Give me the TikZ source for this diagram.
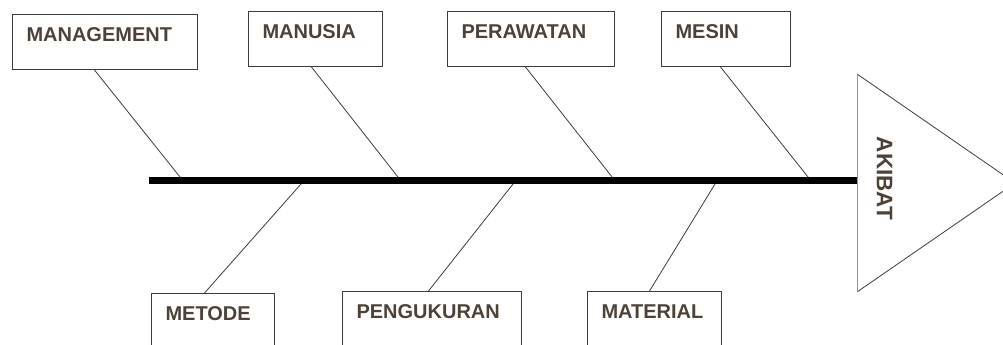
\documentclass[tikz,border=0pt]{standalone}
\usepackage{fontspec}
\setmainfont{Liberation Sans}
\usepackage{tikz}

\definecolor{textbrown}{RGB}{78,66,54}
\definecolor{boxgrey}{RGB}{60,60,60}
\definecolor{edgegrey}{RGB}{150,150,150}

\begin{document}
\begin{tikzpicture}[
		x=1pt, y=-1pt,
		cause/.style={draw=boxgrey, line width=1pt, anchor=north west,
			inner xsep=14pt, inner ysep=13pt, align=left,
			text height=14.3pt, text depth=14.7pt, text=textbrown,
			font=\bfseries\fontsize{20}{24}\selectfont},
		cause low/.style={cause, text depth=20pt},
		bone/.style={draw=boxgrey, line width=0.8pt},
%		spine/.style={line width=7pt, line cap=round},
		] 
		\useasboundingbox (0,0) rectangle (1003,345);
		\clip (0,0) rectangle (1003,345);

		% causes above the spine
		\node[cause, text width=157pt] (mgmt) at (12,14) {MANAGEMENT};
		\node[cause, text width=106pt] (man) at (248,11) {MANUSIA};
		\node[cause, text width=139pt] (per) at (447,11) {PERAWATAN};
		\node[cause, text width=101pt] (mes) at (661,11) {MESIN};
		% causes below the spine
		\node[cause low, text width=95pt] (met) at (151,293) {METODE};
		\node[cause low, text width=151pt] (peng) at (342,291) {PENGUKURAN};
		\node[cause low, text width=106pt] (mat) at (587,291) {MATERIAL};

		% joints on the spine
		\coordinate (tail) at (149,180.5);
		\coordinate (j-mgmt) at (182.8,180.5);
		\coordinate (j-man) at (400.7,180.5);
		\coordinate (j-per) at (614.8,180.5);
		\coordinate (j-mes) at (810.8,180.5);
		\coordinate (j-met) at (304.1,180.5);
		\coordinate (j-peng) at (515.8,180.5);
		\coordinate (j-mat) at (717.2,180.5);

		% head
		\coordinate (headtop) at (857,74);
		\coordinate (headbot) at (857,292);
		\coordinate (tip) at (1015,183);

		\draw[bone] ([xshift=-10.5pt]mgmt.south) -- (j-mgmt);
		\draw[bone] ([xshift=-4pt]man.south) -- (j-man);
		\draw[bone] ([xshift=-5.5pt]per.south) -- (j-per);
		\draw[bone] ([xshift=-5.5pt]mes.south) -- (j-mes);
		\draw[bone] ([xshift=-8.5pt]met.north) -- (j-met);
		\draw[bone] ([xshift=-3.5pt]peng.north) -- (j-peng);
		\draw[bone] ([xshift=-5pt]mat.north) -- (j-mat);

		\draw[line width=7pt] (tail) -- (tail -| headtop);

		\draw[bone] (headtop) -- (tip) -- (headbot);
		\draw[draw=edgegrey, line width=1pt] (headtop) -- (headbot);
		\node[rotate=-90, inner sep=0pt, text=textbrown,
			font=\bfseries\fontsize{22.5}{27}\selectfont] (akibat) at (884.5,178.5) {AKIBAT};
\end{tikzpicture}
\end{document}
